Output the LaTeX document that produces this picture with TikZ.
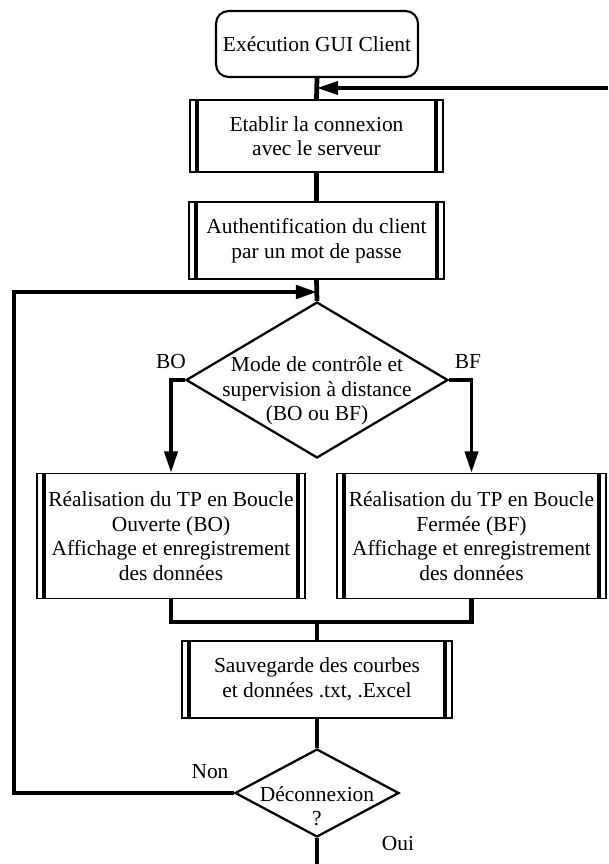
\documentclass[tikz,border=0pt]{standalone}
\usepackage{fontspec}
\setmainfont{Liberation Serif}
\usepackage{xcolor}
\usetikzlibrary{calc,arrows.meta,shapes.geometric}
\definecolor{bg}{HTML}{FFFFFF}
\definecolor{ink}{HTML}{000000}
\tikzset{
  debut/.style={draw=ink, line width=1.2pt, rounded corners=0.25cm, minimum width=4.04cm, minimum height=1.32cm, inner sep=0pt, align=center},
  proc/.style={draw=ink, line width=1.1pt, inner sep=0pt, align=center,
    path picture={\draw[ink, line width=2pt]
      ([xshift=0.14cm]path picture bounding box.north west) -- ([xshift=0.14cm]path picture bounding box.south west)
      ([xshift=-0.14cm]path picture bounding box.north east) -- ([xshift=-0.14cm]path picture bounding box.south east);}},
  choix/.style={draw=ink, diamond, line width=1.3pt, inner sep=0pt},
  lab/.style={text=ink, inner sep=0pt, align=center},
  liaison/.style={draw=ink, line width=2.7pt},
  fleche/.style={draw=ink, line width=1.9pt, -{Triangle[length=12pt,width=7.5pt]}},
  boucle/.style={draw=ink, line width=2.4pt, -{Triangle[length=12pt,width=7.5pt]}},
}

\begin{document}
\begin{tikzpicture}[x=0.02cm, y=-0.02cm, font=\fontsize{12.2}{14}\selectfont]
  \fill[bg] (0,0) rectangle (608,864);
  \useasboundingbox (0,0) rectangle (608,864);

  \node[debut] (start) at (317,44) {Exécution GUI Client};
  \node[proc, minimum width=5.06cm, minimum height=1.44cm] (conn) at (316.5,136) {Etablir la connexion\\avec le serveur};
  \node[proc, minimum width=5.1cm, minimum height=1.54cm] (auth) at (316.5,240.5) {Authentification du client\\par un mot de passe};
  \node[choix, minimum width=5.24cm, minimum height=3.12cm] (mode) at (317,380) {};
  \node[lab] (modetxt) at (317,391) {Mode de contrôle et\\supervision à distance\\(BO ou BF)};
  \node[proc, minimum width=5.36cm, minimum height=2.5cm] (bo) at (171,536) {Réalisation du TP en Boucle\\Ouverte (BO)\\Affichage et enregistrement\\des données};
  \node[proc, minimum width=5.38cm, minimum height=2.5cm] (bf) at (471.5,536) {Réalisation du TP en Boucle\\Fermée (BF)\\Affichage et enregistrement\\des données};
  \node[proc, minimum width=5.4cm, minimum height=1.54cm] (save) at (317,679.5) {Sauvegarde des courbes\\et données .txt, .Excel};
  \node[choix, minimum width=3.28cm, minimum height=1.76cm] (disc) at (317,793) {};
  \node[lab] (disctxt) at (317,806) {Déconnexion\\?};

  \node[lab] (labbo) at (171,362) {BO};
  \node[lab] (labbf) at (468,362) {BF};
  \node[lab] (labnon) at (210,772) {Non};
  \node[lab] (laboui) at (398,843) {Oui};

  \coordinate (retour) at (608,88);
  \coordinate (entree) at (317,292);
  \coordinate (gauche) at (14,292);
  \coordinate (jonction) at (317,622);
  \coordinate (fin) at (317,864);

  \draw[liaison] (start.south) -- (conn.north);
  \draw[fleche] (retour) -- (retour -| start.south);
  \draw[liaison] (conn.south) -- (auth.north);
  \draw[liaison] (auth.south) -- (mode.north);
  \draw[fleche] (mode.west) -| (bo.north);
  \draw[fleche] (mode.east) -| (bf.north);
  \draw[liaison] (bo.south) |- (jonction) -| (bf.south);
  \draw[liaison] (jonction) -- (save.north);
  \draw[liaison] (save.south) -- (disc.north);
  \draw[liaison] (disc.south) -- (fin);
  \draw[boucle] (disc.west) -| (gauche) -- (entree);
\end{tikzpicture}
\end{document}
